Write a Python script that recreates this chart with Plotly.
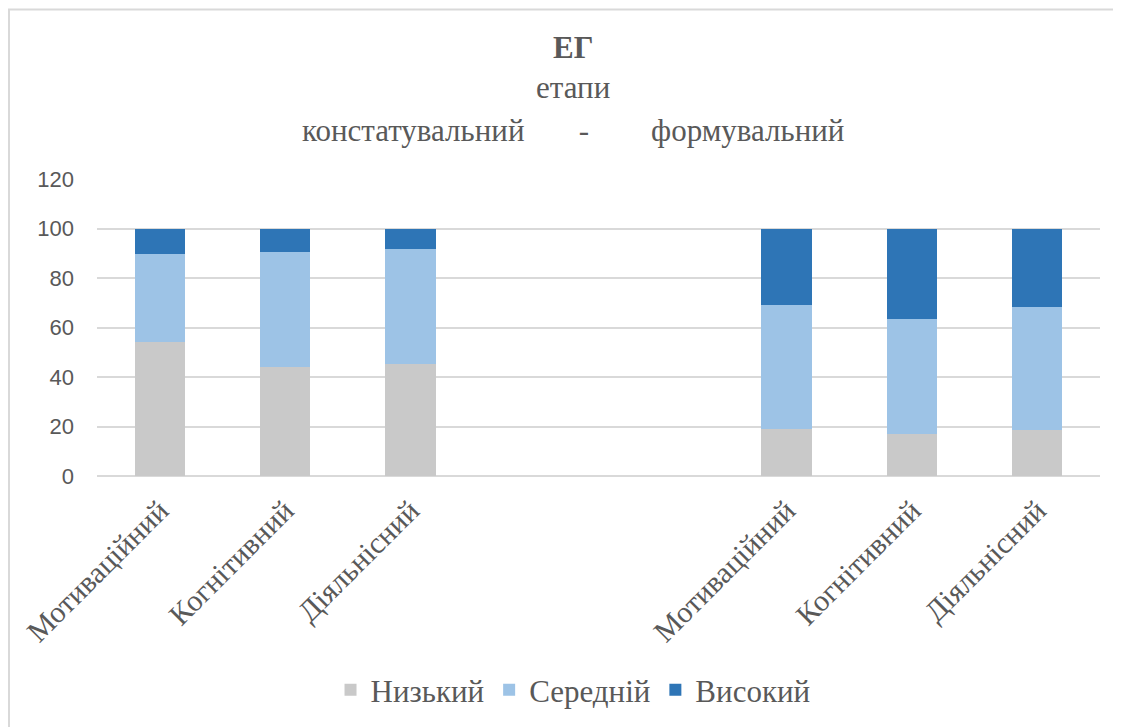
import plotly.graph_objects as go

# categories
indicators = ["Мотиваційний", "Когнітивний", "Діяльнісний"]
stages = ["констатувальний", "формувальний"]

# values per stage (%)
low = {"констатувальний": [54.2, 44.0, 45.3], "формувальний": [18.9, 16.8, 18.4]}
mid = {"констатувальний": [35.3, 46.7, 46.5], "формувальний": [50.1, 46.8, 49.8]}
high = {"констатувальний": [10.5, 9.0, 8.2], "формувальний": [31.0, 36.4, 31.8]}

series = [("Низький", low, "#c9c9c9"),
          ("Середній", mid, "#9dc3e6"),
          ("Високий", high, "#2e75b6")]

# x ids: stage 1 bars, two empty slots, stage 2 bars
x_ids = [f"{stages[0]}|{i}" for i in indicators] + ["gap1", "gap2"] + \
        [f"{stages[1]}|{i}" for i in indicators]
tick_text = indicators + ["", ""] + indicators
bar_ids = [x for x in x_ids if not x.startswith("gap")]

fig = go.Figure()
for name, vals, color in series:
    fig.add_trace(go.Bar(
        x=bar_ids,
        y=vals[stages[0]] + vals[stages[1]],
        name=name,
        marker=dict(color=color, line=dict(width=0)),
    ))

serif = "Times New Roman, Liberation Serif, DejaVu Serif, serif"
grey = "#595959"

# page has an 8px body margin, so the figure is drawn 8px in
fig.update_layout(
    barmode="stack",
    bargap=0.6,
    width=1113, height=719,
    margin=dict(l=89, r=21, t=171, b=250),
    paper_bgcolor="white",
    plot_bgcolor="white",
    showlegend=True,
    legend=dict(orientation="h", x=0.4746, xanchor="center", y=-0.715, yanchor="middle",
                font=dict(family=serif, size=31, color=grey),
                traceorder="normal"),
    xaxis=dict(type="category", categoryorder="array", categoryarray=x_ids,
               tickvals=x_ids, ticktext=tick_text, tickangle=-45,
               tickfont=dict(family=serif, size=30, color=grey),
               ticklabelstandoff=10,
               showgrid=False, showline=False, ticks=""),
    yaxis=dict(range=[0, 120], dtick=20, gridcolor="#d9d9d9", gridwidth=1.5,
               zeroline=True, zerolinecolor="#d9d9d9", zerolinewidth=1.5,
               tickfont=dict(family="Liberation Sans", size=22, color=grey),
               ticklabelstandoff=22),
    font=dict(family=serif, color=grey),
)

# title lines
for ann_text, ypx in [("<b>ЕГ</b>", 47), ("етапи", 87),
                      (stages[0] + "&nbsp;" * 7 + "-" + "&nbsp;" * 8 + stages[1], 130)]:
    fig.add_annotation(text=ann_text, x=0.4746, y=1 + (179 - ypx) / 298,
                       xref="paper", yref="paper", showarrow=False,
                       xanchor="center", yanchor="middle",
                       font=dict(family=serif, size=31, color=grey))

# chart border
fig.add_shape(type="rect", xref="paper", yref="paper",
              x0=(1 - 89) / 1003, x1=(1140 - 89) / 1003,
              y0=-1.2, y1=1 + (171 - 1) / 298,
              line=dict(color="#d9d9d9", width=2), layer="below")

fig.write_html("out.html")
